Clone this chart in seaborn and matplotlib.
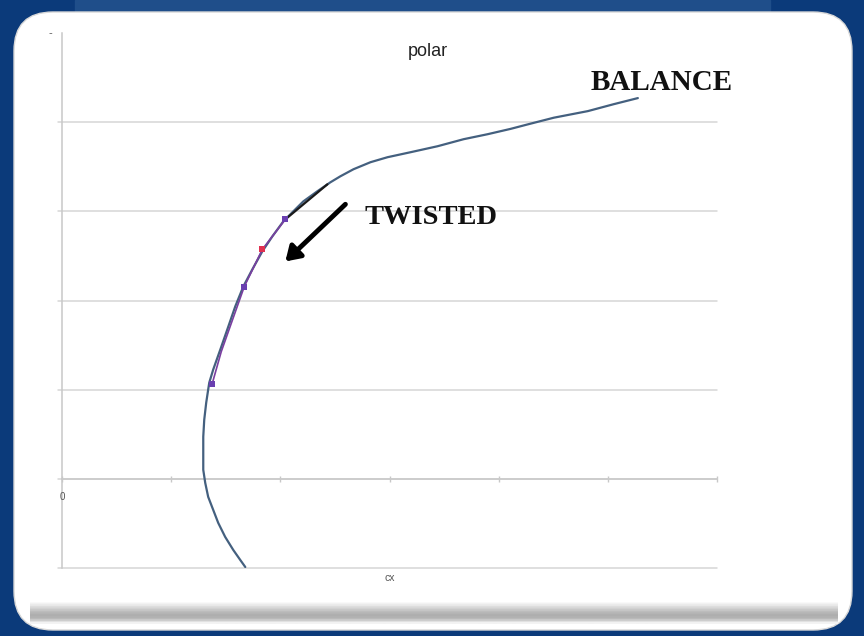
import numpy as np
import pandas as pd
import seaborn as sns
import matplotlib.pyplot as plt
from matplotlib.patches import FancyBboxPatch

# ---- data (grid units) ----
curve_x = [1.679, 1.633, 1.569, 1.495, 1.431, 1.385, 1.339, 1.312, 1.294, 1.294,
           1.294, 1.303, 1.321, 1.339, 1.349, 1.385, 1.450, 1.514, 1.587, 1.661,
           1.743, 1.835, 1.927, 2.028, 2.119, 2.211, 2.339, 2.459, 2.550, 2.670,
           2.826, 2.982, 3.193, 3.440, 3.679, 3.899, 4.110, 4.266, 4.505, 4.817,
           5.055, 5.275]
curve_y = [-0.989, -0.910, -0.798, -0.652, -0.494, -0.348, -0.202, -0.045, 0.101, 0.292,
           0.472, 0.663, 0.854, 1.000, 1.079, 1.225, 1.449, 1.674, 1.933, 2.157,
           2.348, 2.551, 2.719, 2.888, 3.000, 3.112, 3.225, 3.326, 3.393, 3.472,
           3.551, 3.607, 3.663, 3.730, 3.809, 3.865, 3.925, 3.975, 4.050, 4.124,
           4.202, 4.270]

twist_x = [1.376, 1.459, 1.670, 1.835, 2.046]
twist_y = [1.067, 1.427, 2.157, 2.573, 2.910]
black_x = [2.046, 2.431]
black_y = [2.910, 3.303]

marker_x = [1.376, 1.670, 2.046]
marker_y = [1.067, 2.157, 2.910]
red_x = [1.835]
red_y = [2.573]

x_ticks = [0, 1, 2, 3, 4, 5, 6]
y_grid = [-1, 0, 1, 2, 3, 4]

sns.set_theme(style="white")
plt.rcParams['font.family'] = ['Liberation Sans', 'DejaVu Sans']

fig = plt.figure(figsize=(8.64, 6.36), dpi=100)
fig.patch.set_facecolor('#0b3a7a')

W, H = 864, 636
def fx(px):
    return px / W
def fy(py):
    return 1 - py / H

# top lighter band
fig.patches.append(plt.Rectangle((fx(75), fy(14)), fx(770) - fx(75), 14 / H,
                                 transform=fig.transFigure, color='#1f4e8a', zorder=0))
# white card
card = FancyBboxPatch((fx(14), fy(630)), fx(838), 618 / H,
                      boxstyle="round,pad=0,rounding_size=0.045",
                      transform=fig.transFigure, facecolor='white', edgecolor='#d8d8d8',
                      linewidth=1, zorder=1, mutation_aspect=W / H)
fig.patches.append(card)
# bottom shadow gradient
sh_ax = fig.add_axes([fx(30), fy(624), fx(808), 22 / H], zorder=2)
grad = np.array([[0.98], [0.92], [0.85], [0.78], [0.72], [0.68], [0.70], [0.80], [0.95]])
sh_ax.imshow(grad, cmap='gray', vmin=0, vmax=1, aspect='auto', extent=[0, 1, 0, 1])
sh_ax.axis('off')

ax = fig.add_axes([fx(62), fy(568), fx(717) - fx(62), (568 - 33) / H], zorder=3)
ax.set_facecolor('none')
ax.set_xlim(0, 6)
ax.set_ylim(-1, 5)

for yv in y_grid:
    ax.axhline(yv, color='#d6d6d6', lw=1.1, zorder=1, xmin=-0.006, clip_on=False)

df = pd.DataFrame({'x': curve_x, 'y': curve_y})
sns.lineplot(data=df, x='x', y='y', sort=False, estimator=None, ax=ax,
             color='#44607f', lw=1.6, zorder=4, solid_joinstyle='round',
             solid_capstyle='round')
sns.lineplot(x=twist_x, y=twist_y, sort=False, estimator=None, ax=ax,
             color='#7a3fa0', lw=1.2, zorder=5)
sns.lineplot(x=black_x, y=black_y, sort=False, estimator=None, ax=ax,
             color='#1a1a1a', lw=1.6, zorder=5)
ax.scatter(marker_x, marker_y, marker='s', s=14, color='#6a3fb0', zorder=6, linewidths=0)
ax.scatter(red_x, red_y, marker='s', s=14, color='#e03050', zorder=6, linewidths=0)

# spines / ticks
for s in ['top', 'right']:
    ax.spines[s].set_visible(False)
ax.spines['left'].set_color('#c8c8c8')
ax.spines['left'].set_linewidth(1.1)
ax.spines['bottom'].set_position(('data', 0))
ax.spines['bottom'].set_color('#c8c8c8')
ax.spines['bottom'].set_linewidth(1.1)
ax.set_xticks(x_ticks)
ax.set_xticklabels([''] * len(x_ticks))
ax.set_yticks([])
ax.tick_params(axis='x', direction='inout', length=5, color='#c8c8c8', width=1, bottom=True)
ax.set_xlabel('')
ax.set_ylabel('')

ax.text(0, -0.2, '0', ha='center', va='center', fontsize=7, color='#555555')
ax.text(-0.11, 5.0, '-', ha='center', va='center', fontsize=8, color='#555555', clip_on=False)
ax.text(3.0, -1.11, 'cx', ha='center', va='center', fontsize=7.5, color='#555555', clip_on=False)

fig.text(fx(428), fy(51), 'polar', ha='center', va='center', fontsize=13,
         color='#222222', fontweight='medium', zorder=5)

ax.annotate('', xy=(2.046, 2.438), xytext=(2.596, 3.079),
            arrowprops=dict(arrowstyle='-|>,head_length=0.7,head_width=0.45',
                            color='black', lw=3.5, shrinkA=0, shrinkB=0),
            zorder=7)
ax.text(3.38, 2.93, 'TWISTED', ha='center', va='center', fontsize=20.5,
        fontweight='bold', family=['Liberation Serif', 'DejaVu Serif'], color='#111111')
ax.text(5.496, 4.44, 'BALANCE', ha='center', va='center', fontsize=21,
        fontweight='bold', family=['Liberation Serif', 'DejaVu Serif'], color='#111111',
        clip_on=False)

fig.savefig('out.png', dpi=100, facecolor=fig.get_facecolor())
